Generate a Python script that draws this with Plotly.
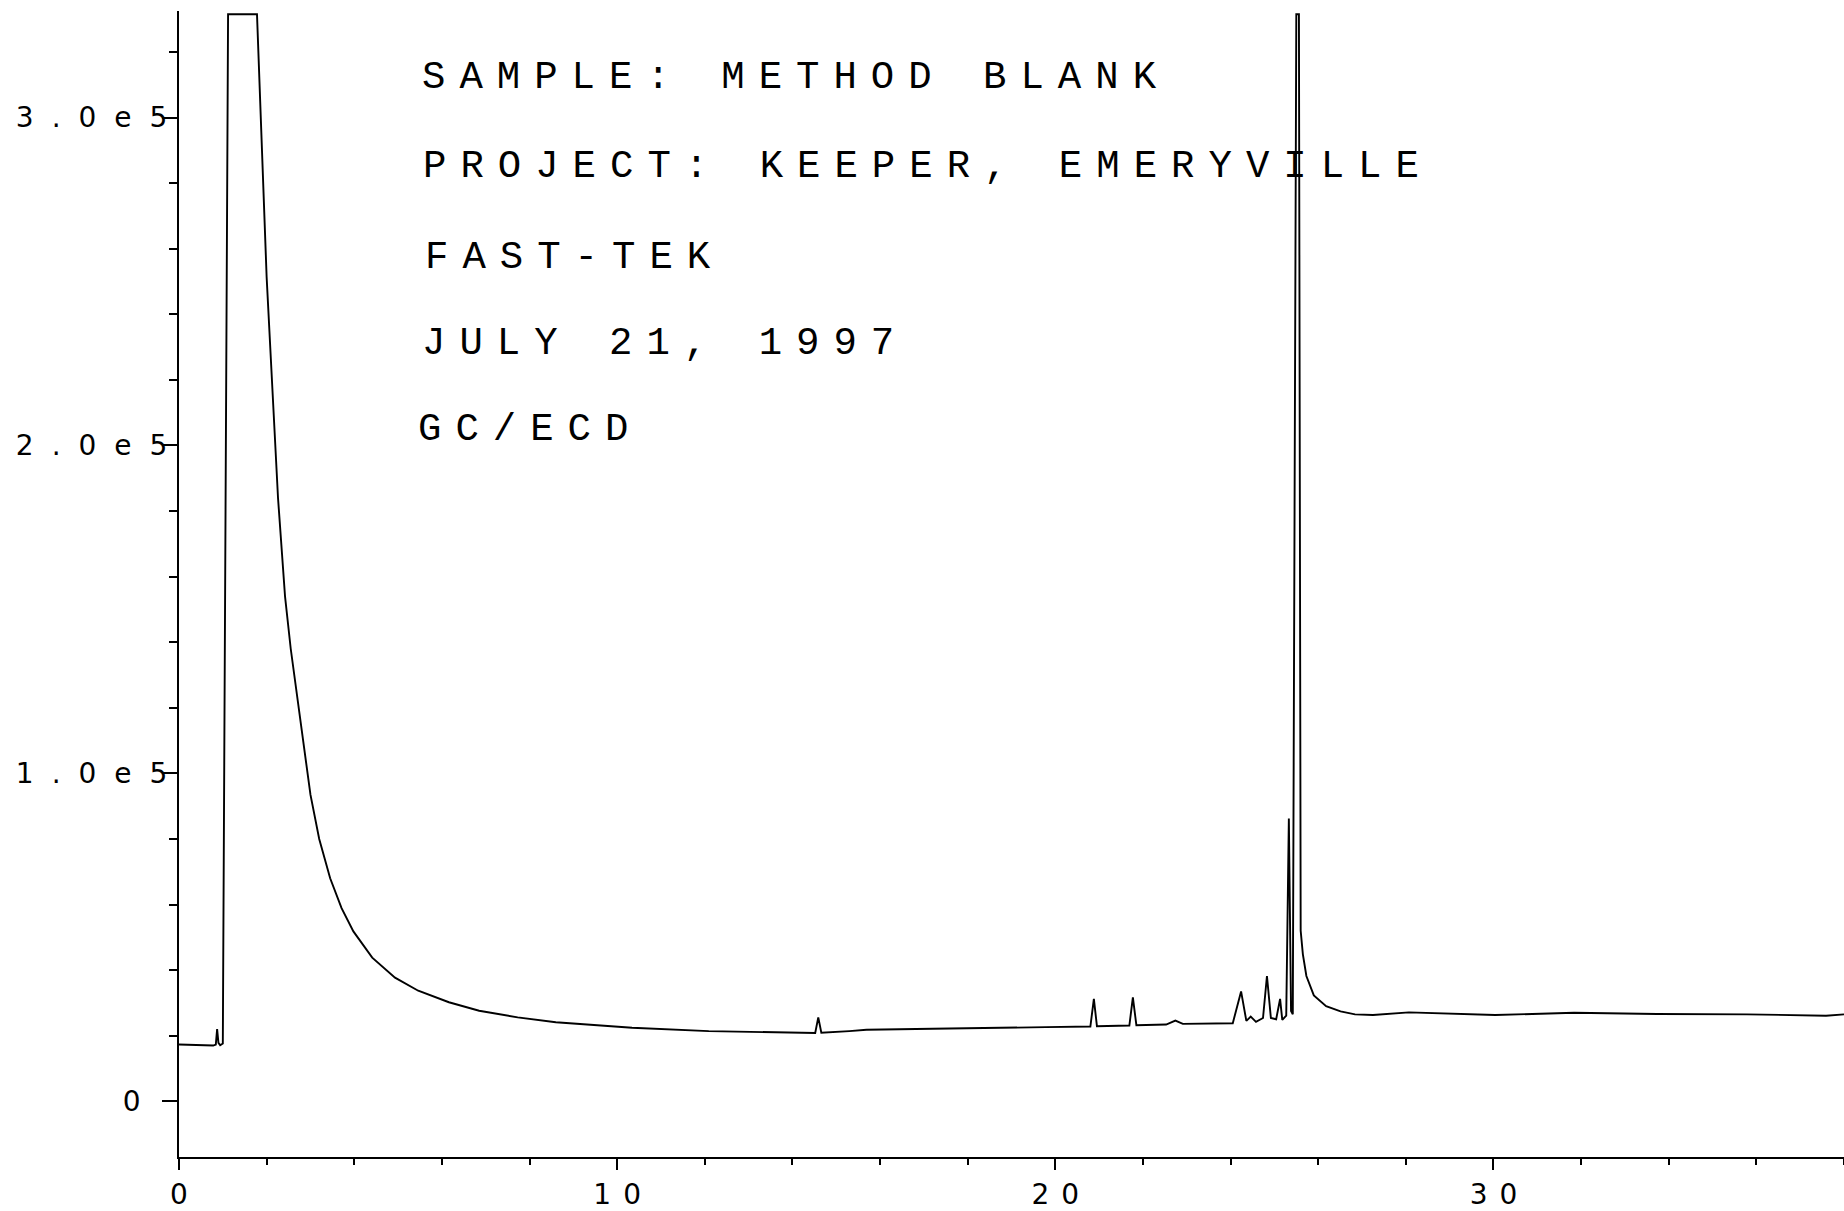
import plotly.graph_objects as go

# ---- data (retention time in min, detector response) ----
retention_time = [
    0.00, 0.40, 0.78, 0.84, 0.87, 0.90, 0.94, 1.00,
    1.12, 1.78, 2.00, 2.26, 2.42, 2.55, 2.70, 2.85, 3.00, 3.20,
    3.45, 3.71, 3.98, 4.41, 4.93, 5.46, 6.16, 6.85, 7.73, 8.60,
    10.34, 12.09, 13.83, 14.52, 14.59, 14.66, 15.30, 15.69, 17.20, 18.73,
    19.79, 20.80, 20.88, 20.95, 21.69, 21.77, 21.85, 22.53, 22.74, 22.91,
    24.05, 24.24, 24.36, 24.46, 24.58, 24.74, 24.83, 24.92, 25.04, 25.13,
    25.18, 25.27, 25.33, 25.38, 25.42, 25.50, 25.56, 25.60, 25.65, 25.73,
    25.90, 26.18, 26.51, 26.84, 27.25, 28.07, 30.04, 31.84, 33.73, 35.78,
    37.59, 38.00,
]
response = [
    17300, 17200, 17000, 17300, 22000, 17800, 17100, 17600,
    331500, 331500, 251400, 184000, 154000, 138000, 123000, 107000, 93500, 80000,
    68000, 58900, 51800, 43800, 37700, 33700, 30200, 27600, 25600, 24100,
    22400, 21400, 20900, 20800, 25600, 20900, 21400, 21800, 22100, 22300,
    22600, 22800, 31200, 22900, 23100, 31700, 23200, 23400, 24600, 23600,
    23800, 33500, 24500, 25800, 24200, 25400, 38200, 25400, 25000, 31200,
    24800, 26100, 86200, 27500, 26500, 331500, 331500, 52000, 44800, 38200,
    32300, 29000, 27400, 26500, 26300, 27100, 26300, 27000, 26600, 26500,
    26100, 26500,
]

x_tick_values = [0, 10, 20, 30]
x_tick_labels = ["0", "10", "20", "30"]
y_tick_values = [0, 100000, 200000, 300000]
y_tick_labels = ["0\u00a0", "1.0e5", "2.0e5", "3.0e5"]

header_lines = [
    "SAMPLE: METHOD BLANK",
    "PROJECT: KEEPER, EMERYVILLE",
    "FAST-TEK",
    "JULY 21, 1997",
    "GC/ECD",
]
header_x = [5.50, 5.52, 5.56, 5.50, 5.41]
header_y = [312200, 285000, 257200, 230800, 204600]

fig = go.Figure()
fig.add_trace(go.Scatter(
    x=retention_time, y=response, mode="lines",
    line=dict(color="black", width=1.9), showlegend=False, hoverinfo="skip",
))

for txt, hx, hy in zip(header_lines, header_x, header_y):
    fig.add_annotation(
        x=hx, y=hy, xref="x", yref="y", text=txt, showarrow=False,
        xanchor="left", yanchor="middle", align="left",
        font=dict(family="Liberation Mono", size=39, color="black"),
    )

tick_font = dict(family="DejaVu Sans", size=28, color="black")

fig.update_layout(
    width=1844, height=1211,
    margin=dict(l=179, r=0, t=11, b=47, pad=0),
    paper_bgcolor="white", plot_bgcolor="white",
    xaxis=dict(
        range=[0, 38], showgrid=False, zeroline=False,
        showline=True, linecolor="black", linewidth=2,
        ticks="outside", ticklen=11, tickwidth=2, tickcolor="black",
        tickmode="array", tickvals=x_tick_values, ticktext=x_tick_labels,
        tickfont=tick_font,
        minor=dict(ticks="outside", ticklen=6, tickwidth=1.5, tickcolor="black", dtick=2, showgrid=False),
    ),
    yaxis=dict(
        range=[-17000, 332500], showgrid=False, zeroline=False,
        showline=True, linecolor="black", linewidth=2,
        ticks="outside", ticklen=15, tickwidth=2, tickcolor="black",
        tickmode="array", tickvals=y_tick_values, ticktext=y_tick_labels,
        tickfont=tick_font, ticklabelstandoff=-12,
        minor=dict(ticks="outside", ticklen=8, tickwidth=1.5, tickcolor="black", dtick=20000, showgrid=False),
    ),
)

post_js = """
var gd = document.getElementById('{plot_id}');
function spaceText(){
  gd.querySelectorAll('.annotation-text').forEach(function(t){ t.style.letterSpacing='14px'; });
  gd.querySelectorAll('.xtick text').forEach(function(t){ t.style.letterSpacing='12px'; t.setAttribute('dx','6'); });
  gd.querySelectorAll('.ytick text').forEach(function(t){ t.style.letterSpacing='18px'; t.setAttribute('dx','17'); });
}
spaceText();
gd.on('plotly_afterplot', spaceText);
"""

fig.write_html("out.html", post_script=post_js, config={"displayModeBar": False})
